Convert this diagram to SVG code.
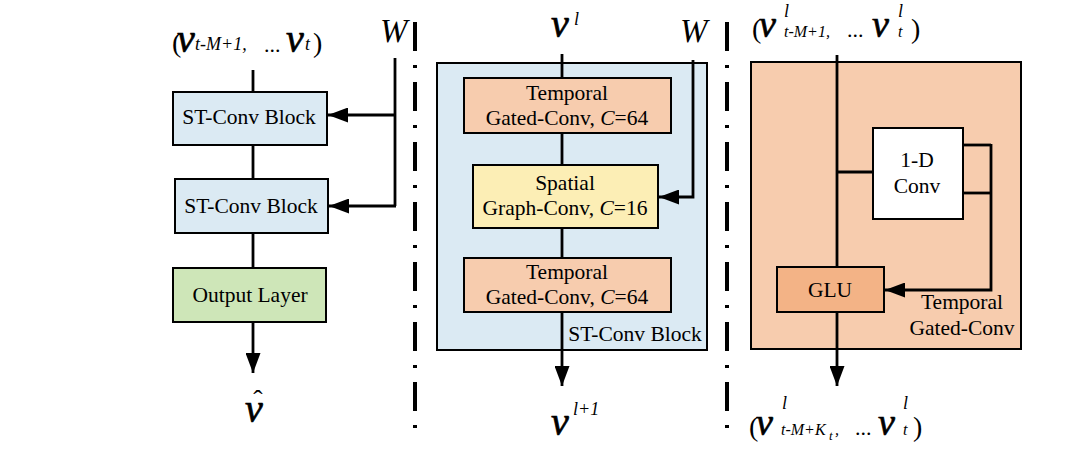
<svg xmlns="http://www.w3.org/2000/svg" width="1080" height="450" viewBox="0 0 1080 450">
  <defs>
    <marker id="arr" viewBox="0 0 20 15" refX="20" refY="7.5" markerWidth="20" markerHeight="15" markerUnits="userSpaceOnUse" orient="auto">
      <path d="M0,0 L20,7.5 L0,15 z" fill="#000"/>
    </marker>
    <style>
      .box { stroke: #000; stroke-width: 2; }
      .blue { fill: #DBEAF3; }
      .orange { fill: #F7CCAE; }
      .yellow { fill: #FCEEB5; }
      .green { fill: #CEE6B8; }
      .glu { fill: #F3B386; }
      .white { fill: #FFFFFF; }
      .ln { stroke: #000; stroke-width: 2.8; fill: none; }
      .sep { stroke: #000; stroke-width: 4; stroke-dasharray: 29 14 3 14; fill: none; }
      text { font-family: "Liberation Serif", "Times New Roman", serif; fill: #000; }
      .t { font-size: 21.5px; text-anchor: middle; }
      .v { font-style: italic; font-size: 40px; stroke: #000; stroke-width: 0.7; }
      .v2 { font-style: italic; font-size: 38px; stroke: #000; stroke-width: 0.7; }
      .p { font-size: 28px; }
      .s { font-style: italic; font-size: 18px; }
      .s2 { font-style: italic; font-size: 16px; }
      .ss { font-style: italic; font-size: 13px; }
      .d { font-size: 22px; }
      .w { font-style: italic; font-size: 33px; }
      .it { font-style: italic; }
    </style>
  </defs>

  <!-- dash-dot separators between the three panels -->
  <g id="separators">
    <line class="sep" x1="415" y1="22" x2="415" y2="436"/>
    <line class="sep" x1="727" y1="22" x2="727" y2="436"/>
  </g>

  <!-- containers -->
  <g id="st-conv-container">
    <rect class="box blue" x="437" y="63" width="270" height="287"/>
    <text class="t" x="635" y="341">ST-Conv Block</text>
  </g>
  <g id="temporal-container">
    <rect class="box orange" x="751" y="62" width="270" height="287"/>
    <text class="t" x="962" y="309">Temporal</text>
    <text class="t" x="962" y="335">Gated-Conv</text>
  </g>

  <!-- connectors -->
  <g id="connectors">
    <!-- left panel -->
    <line class="ln" x1="253" y1="70" x2="253" y2="92"/>
    <line class="ln" x1="253" y1="145" x2="253" y2="179"/>
    <line class="ln" x1="253" y1="233" x2="253" y2="268"/>
    <line class="ln" x1="253" y1="322" x2="253" y2="373" marker-end="url(#arr)"/>
    <polyline class="ln" points="395,58 395,206"/>
    <line class="ln" x1="395" y1="115" x2="328" y2="115" marker-end="url(#arr)"/>
    <line class="ln" x1="396" y1="206" x2="329" y2="206" marker-end="url(#arr)"/>
    <!-- middle panel -->
    <line class="ln" x1="562" y1="54" x2="562" y2="78"/>
    <line class="ln" x1="562" y1="133" x2="562" y2="165"/>
    <line class="ln" x1="562" y1="228" x2="562" y2="258"/>
    <line class="ln" x1="562" y1="312" x2="562" y2="386" marker-end="url(#arr)"/>
    <polyline class="ln" points="693,60 693,197 659,197" marker-end="url(#arr)"/>
    <!-- right panel -->
    <line class="ln" x1="837" y1="55" x2="837" y2="267"/>
    <line class="ln" x1="837" y1="172" x2="873" y2="172"/>
    <line class="ln" x1="963" y1="145" x2="991" y2="145"/>
    <line class="ln" x1="963" y1="193" x2="991" y2="193"/>
    <polyline class="ln" points="991,144 991,290 885,290" marker-end="url(#arr)"/>
    <line class="ln" x1="837" y1="312" x2="837" y2="386" marker-end="url(#arr)"/>
  </g>

  <!-- left panel nodes -->
  <g id="st-block-1">
    <rect class="box blue" x="173" y="92" width="154" height="53"/>
    <text class="t" x="249" y="124">ST-Conv Block</text>
  </g>
  <g id="st-block-2">
    <rect class="box blue" x="175" y="179" width="153" height="54"/>
    <text class="t" x="251" y="213">ST-Conv Block</text>
  </g>
  <g id="output-layer">
    <rect class="box green" x="173" y="268" width="153" height="54"/>
    <text class="t" x="250" y="302">Output Layer</text>
  </g>

  <!-- middle panel nodes -->
  <g id="temporal-1">
    <rect class="box orange" x="464" y="78" width="207" height="55"/>
    <text class="t" x="567" y="100">Temporal</text>
    <text class="t" x="567" y="125">Gated-Conv, <tspan class="it">C</tspan>=64</text>
  </g>
  <g id="spatial">
    <rect class="box yellow" x="473" y="165" width="185" height="63"/>
    <text class="t" x="565" y="190">Spatial</text>
    <text class="t" x="565" y="215">Graph-Conv, <tspan class="it">C</tspan>=16</text>
  </g>
  <g id="temporal-2">
    <rect class="box orange" x="464" y="258" width="207" height="54"/>
    <text class="t" x="567" y="279">Temporal</text>
    <text class="t" x="567" y="304">Gated-Conv, <tspan class="it">C</tspan>=64</text>
  </g>

  <!-- right panel nodes -->
  <g id="conv-1d">
    <rect class="box white" x="873" y="128" width="90" height="91"/>
    <text class="t" x="917" y="167">1-D</text>
    <text class="t" x="917" y="193">Conv</text>
  </g>
  <g id="glu">
    <rect class="box glu" x="777" y="267" width="107" height="45"/>
    <text class="t" x="830" y="297">GLU</text>
  </g>

  <!-- symbols -->
  <g id="labels">
    <text y="52"><tspan class="p" x="172">(</tspan><tspan class="v" x="177">v</tspan><tspan class="s" x="195" y="50">t-M+1,</tspan><tspan class="d" x="264" y="52">...</tspan><tspan class="v" x="286">v</tspan><tspan class="s" x="305" y="50">t</tspan><tspan class="p" x="313" y="52">)</tspan></text>
    <text class="w" x="380" y="42">W</text>
    <text class="v" x="245" y="422">v</text>
    <text x="258" y="409" font-size="28" text-anchor="middle">ˆ</text>

    <text y="37"><tspan class="v" x="551">v</tspan><tspan class="s" x="574" y="25">l</tspan></text>
    <text class="w" x="680" y="42">W</text>
    <text y="435"><tspan class="v" x="551">v</tspan><tspan class="s" x="573" y="415">l+1</tspan></text>

    <text y="38"><tspan class="p" x="752">(</tspan><tspan class="v2" x="759" y="37">v</tspan><tspan class="s" x="784" y="17">l</tspan><tspan class="s2" x="784" y="37">t-M+1,</tspan><tspan class="d" x="847" y="37">...</tspan><tspan class="v2" x="872" y="37">v</tspan><tspan class="s" x="898" y="17">l</tspan><tspan class="s2" x="898" y="37">t</tspan><tspan class="p" x="911" y="38">)</tspan></text>

    <text y="436"><tspan class="p" x="749">(</tspan><tspan class="v2" x="756" y="435">v</tspan><tspan class="s" x="782" y="409">l</tspan><tspan class="s2" x="781" y="435">t-M+K</tspan><tspan class="ss" x="829" y="440">t</tspan><tspan class="s2" x="835" y="435">,</tspan><tspan class="d" x="855" y="435">...</tspan><tspan class="v2" x="878" y="435">v</tspan><tspan class="s" x="903" y="409">l</tspan><tspan class="s2" x="903" y="435">t</tspan><tspan class="p" x="913" y="436">)</tspan></text>
  </g>
</svg>
